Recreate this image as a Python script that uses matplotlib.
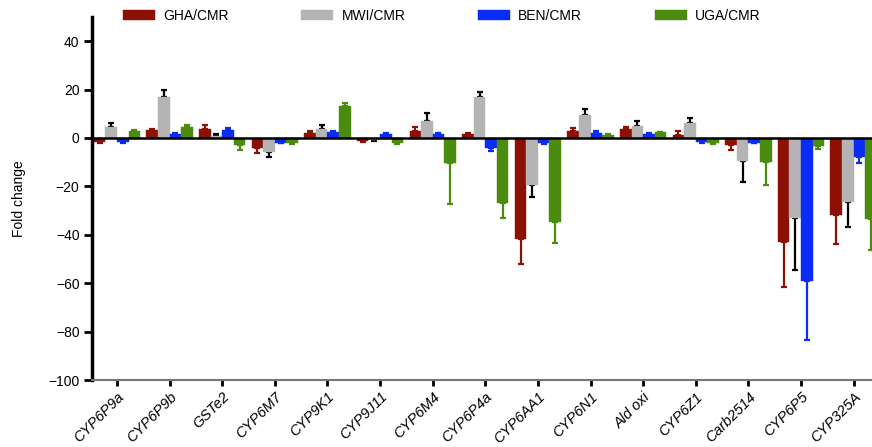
import numpy as np
import matplotlib
matplotlib.use("Agg")
import matplotlib.pyplot as plt

plt.rcParams['font.family'] = ['Liberation Sans', 'DejaVu Sans']

genes = ["CYP6P9a", "CYP6P9b", "GSTe2", "CYP6M7", "CYP9K1", "CYP9J11", "CYP6M4",
         "CYP6P4a", "CYP6AA1", "CYP6N1", "Ald oxi", "CYP6Z1", "Carb2514", "CYP6P5", "CYP325A"]

series_names = ["GHA/CMR", "MWI/CMR", "BEN/CMR", "UGA/CMR"]

gha = [-1.6, 3.3, 3.6, -4.3, 1.9, -1.4, 3.0, 1.5, -41.6, 3.0, 3.9, 1.4, -2.8, -43.1, -31.8]
gha_err = [0.5, 0.4, 1.9, 1.8, 1.1, 0.3, 1.7, 0.4, 10.4, 1.3, 0.6, 1.6, 2.3, 18.5, 12.0]
mwi = [4.7, 17.1, 0.8, -5.6, 3.9, -0.8, 6.9, 17.1, -19.4, 9.5, 5.1, 6.3, -9.3, -33.2, -26.3]
mwi_err = [1.3, 2.7, 0.8, 2.4, 1.6, 0.5, 3.3, 1.9, 4.8, 2.3, 1.8, 1.8, 9.0, 21.5, 10.3]
ben = [-1.6, 1.6, 3.3, -1.9, 2.6, 1.6, 1.6, -4.3, -1.9, 2.2, 1.6, -1.6, -1.9, -59.0, -7.9]
ben_err = [0.4, 0.3, 0.8, 0.3, 0.4, 0.3, 0.6, 0.9, 0.4, 0.6, 0.3, 0.6, 0.2, 24.6, 2.5]
uga = [2.9, 4.7, -2.8, -2.0, 13.2, -2.2, -10.2, -26.7, -34.8, 1.4, 2.3, -2.0, -10.0, -3.5, -33.6]
uga_err = [0.3, 0.5, 2.1, 0.5, 1.1, 0.3, 17.1, 6.5, 8.7, 0.3, 0.3, 0.5, 9.6, 1.0, 12.7]

yticks = [40, 20, 0, -20, -40, -60, -80, -100]

bar_colors = ["#8c1004", "#b4b4b4", "#0a2cf8", "#4b8b0e"]
err_colors = ["#8c1004", "#000000", "#0a2cf8", "#4b8b0e"]

values = [gha, mwi, ben, uga]
errors = [gha_err, mwi_err, ben_err, uga_err]

fig = plt.figure(figsize=(8.72, 4.47), dpi=100)
ax = fig.add_axes([92 / 872, 1 - 380 / 447, 1 - 92 / 872, (380 - 17) / 447])

x = np.arange(len(genes))
w = 0.22
offsets = [-1.5, -0.5, 0.5, 1.5]
handles = []
for k in range(4):
    v = np.array(values[k])
    e = np.array(errors[k])
    xpos = x + offsets[k] * w
    b = ax.bar(xpos, v, width=w, color=bar_colors[k], edgecolor=bar_colors[k],
               linewidth=0.3, label=series_names[k], zorder=2)
    handles.append(b)
    lower = np.where(v < 0, e, 0)
    upper = np.where(v >= 0, e, 0)
    ax.errorbar(xpos, v, yerr=[lower, upper], fmt='none', ecolor=err_colors[k],
                elinewidth=1.6, capsize=2.2, capthick=1.6, zorder=1)

ax.axhline(0, color='black', lw=1.8, zorder=3)

ax.set_xlim(-0.475, 14.35)
ax.set_ylim(-100, 50)
ax.set_yticks(yticks)
ax.set_yticklabels([str(t).replace('-', '\u2212') for t in yticks], fontsize=10)
ax.set_xticks(x)
ax.set_xticklabels(genes, rotation=45, ha='right', rotation_mode='anchor',
                   fontsize=10.5, style='italic')

for s in ['top', 'right']:
    ax.spines[s].set_visible(False)
ax.spines['left'].set_linewidth(2.5)
ax.spines['left'].set_color('black')
ax.spines['left'].set_bounds(-100, 50)
ax.spines['bottom'].set_linewidth(1.5)
ax.spines['bottom'].set_color('#777777')
ax.tick_params(axis='y', length=6, width=2, color='black', pad=3)
ax.tick_params(axis='x', length=4, width=2, color='black', pad=3)

ax.set_ylabel("Fold change", fontsize=10, labelpad=16)

fig.legend(handles=handles, labels=series_names, loc='center left',
           bbox_to_anchor=(123 / 872, 1 - 16 / 447), ncol=4, frameon=False,
           fontsize=10, handlelength=2.3, handleheight=0.7, handletextpad=0.58,
           columnspacing=5.25, borderpad=0, borderaxespad=0)

fig.savefig("out.png", dpi=100)
